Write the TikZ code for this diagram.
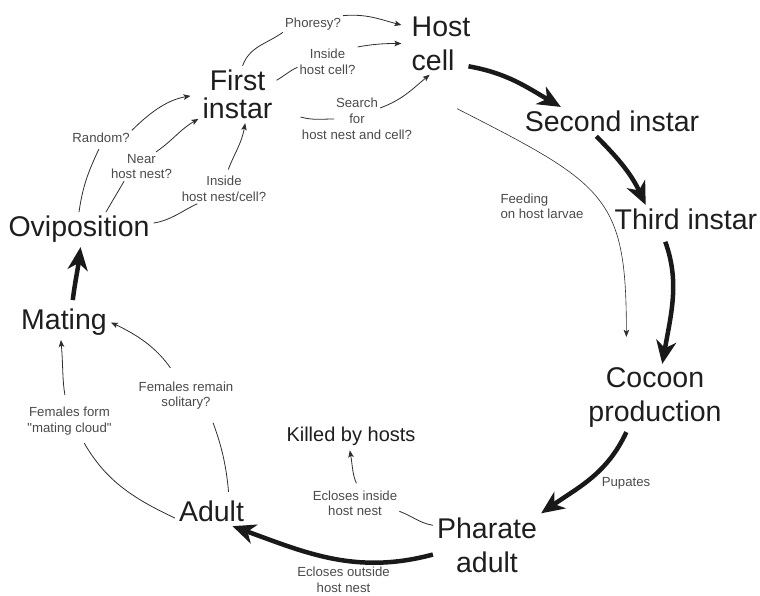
\documentclass[tikz,border=0pt]{standalone}
\usepackage{fontspec}
\setmainfont{Liberation Sans}
\usetikzlibrary{arrows.meta}
\definecolor{stagetext}{HTML}{1E1E1E}
\definecolor{notetext}{HTML}{4A4A4A}
\definecolor{linkgray}{HTML}{2E2E2E}
\tikzset{
	stage/.style={text=stagetext, font=\fontsize{28.5}{34}\selectfont, align=center, inner sep=4pt},
	note/.style={text=notetext, font=\fontsize{13.2}{15.5}\selectfont, align=center, inner sep=2pt},
	hint/.style={draw=linkgray, line width=0.8pt},
	hintarrow/.style={hint, -{Stealth[length=7pt,width=5.5pt,inset=1.5pt]}},
	flow/.style={draw=black!90, line width=4.5pt, -{Stealth[length=23pt,width=20pt,inset=7pt]}}
}

\begin{document}
\begin{tikzpicture}[x=1pt,y=1pt]
				\useasboundingbox (0,0) rectangle (760,-596);
				\node[stage, align=left, inner xsep=10pt] (host) at (441,-43.5) {Host\\cell};
				\node[stage, font=\fontsize{28.5}{28}\selectfont] (first) at (237.5,-94.5) {First\\instar};
				\node[stage] (second) at (612,-121.6) {Second instar};
				\node[stage] (third) at (686,-219.6) {Third instar};
				\node[stage] (cocoon) at (655,-398) {Cocoon\\production};
				\node[stage] (pharate) at (487,-545) {Pharate\\adult};
				\node[stage] (adult) at (211.5,-511.5) {Adult};
				\node[stage, font=\fontsize{20}{24}\selectfont] (killed) at (351,-436.8) {Killed by hosts};
				\node[stage] (mating) at (64,-322.5) {Mating};
				\node[stage] (ovi) at (79,-229.6) {Oviposition};

				\node[note] (phoresy) at (313,-24) {Phoresy?};
				\node[note, font=\fontsize{13.2}{16}\selectfont] (incell) at (327.5,-62) {Inside\\host cell?};
				\node[note, font=\fontsize{13.2}{16}\selectfont] (search) at (357,-119) {Search\\for\\host nest and cell?};
				\node[note] (random) at (101,-137.5) {Random?};
				\node[note] (near) at (141.5,-166.5) {Near\\host nest?};
				\node[note] (innest) at (224,-189) {Inside\\host nest/cell?};
				\node[note, align=left] (feeding) at (542,-206.5) {Feeding\\on host larvae};
				\node[note] (pupates) at (626,-483) {Pupates};
				\node[note] (remain) at (186,-395.5) {Females remain\\solitary?};
				\node[note] (cloud) at (69.5,-421) {Females form\\\textquotedbl mating cloud\textquotedbl};
				\node[note] (ecin) at (355,-503.5) {Ecloses inside\\host nest};
				\node[note] (ecout) at (343.5,-580) {Ecloses outside\\host nest};

				\draw[hint] (first.80) to[out=70,in=215] (phoresy.south west);
				\draw[hintarrow] (phoresy.north east) to[out=5,in=165] (host.155);
				\draw[hint] (first.20) to[out=30,in=205] (incell.190);
				\draw[hintarrow] (incell.north east) to[out=10,in=180] (host.west);
				\draw[hint] ([xshift=24pt]first.-30) to[out=-15,in=180] ([xshift=-23pt]search.center);
				\draw[hintarrow] ([shift={(23,11)}]search.center) to[out=20,in=220] (host.250);
				\draw[hint, shorten >=5pt] (ovi.north) to[out=82,in=245] (random.south);
				\draw[hintarrow, shorten >=8pt] (random.north east) to[out=45,in=190] (first.west);
				\draw[hint] (ovi.33) to[out=60,in=240] (near.220);
				\draw[hintarrow] (near.45) to[out=35,in=210] (first.212);
				\draw[hint] (ovi.5) to[out=10,in=205] (innest.209);
				\draw[hintarrow, shorten <=5pt] (innest.80) to[out=70,in=260] (first.-75);
				\draw[hintarrow, line width=0.6pt, shorten >=27pt] ([xshift=16pt,yshift=-34pt]host.south) to[out=-27,in=90,looseness=1.4] (cocoon.130);
				\draw[hint] (pharate.160) to[out=170,in=-20] (ecin.-10);
				\draw[hintarrow, shorten <=6pt] (ecin.75) to[out=115,in=-80] (killed.265);
				\draw[hint, shorten >=7pt] (adult.190) to[out=155,in=-60] (cloud.-55);
				\draw[hintarrow, shorten <=10pt] (cloud.100) to[out=100,in=-85] (mating.-100);
				\draw[hint, shorten <=5pt, shorten >=12pt] (adult.40) to[out=95,in=-70] (remain.-35);
				\draw[hintarrow, shorten <=14pt] (remain.115) to[out=125,in=-25] (mating.east);

				\draw[flow] ([xshift=-12pt]host.-30) to[out=-10,in=150] (second.164);
				\draw[flow] (second.-137) to[out=-45,in=115] (third.160);
				\draw[flow, shorten <=8pt] (third.-148) to[out=-70,in=80] (cocoon.78);
				\draw[flow] (cocoon.-130) to[out=-115,in=35] (pharate.north east);
				\draw[flow] (pharate.190) to[out=195,in=-20] (adult.-35);
				\draw[flow, shorten <=5pt] (mating.65) to[out=83,in=-97] (ovi.-85);
\end{tikzpicture}
\end{document}
